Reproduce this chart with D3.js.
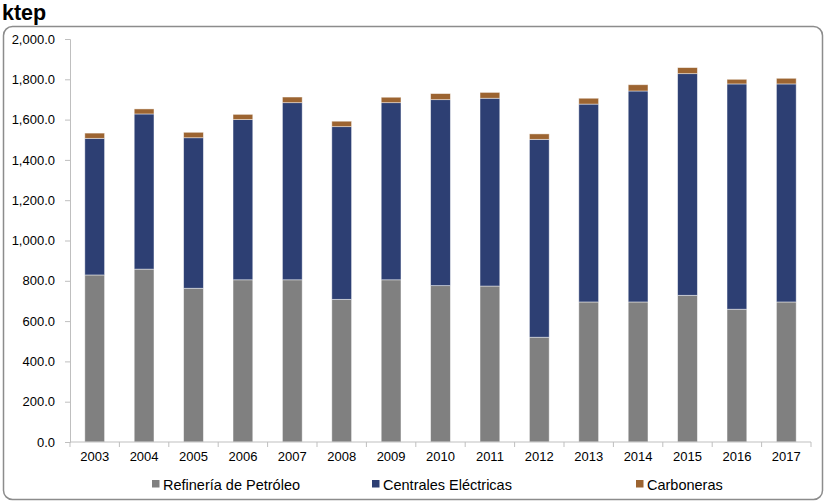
<!DOCTYPE html>
<html>
<head>
<meta charset="utf-8">
<script src="https://cdn.jsdelivr.net/npm/d3@7/dist/d3.min.js"></script>
<style>
  html, body { margin: 0; padding: 0; background: #fff; }
  svg { display: block; font-family: "Liberation Sans", Arial, sans-serif; }
</style>
</head>
<body>
<svg id="chart" width="825" height="502"></svg>
<script>
// Consumo por sector, ktep
const years = ["2003","2004","2005","2006","2007","2008","2009","2010","2011","2012","2013","2014","2015","2016","2017"];
const refineria = [829, 858, 763, 805, 805, 708, 805, 776, 774, 520, 695, 695, 728, 659, 695];
const centrales = [678, 770, 747, 795, 879, 857, 879, 923, 932, 982, 982, 1047, 1100, 1118, 1082];
const carboneras = [26, 25, 27, 26, 28, 27, 27, 30, 29, 27, 29, 31, 30, 23, 28];
const seriesNames = ["Refinería de Petróleo", "Centrales Eléctricas", "Carboneras"];
const seriesKeys = ["refineria", "centrales", "carboneras"];
const seriesColors = ["#808080", "#2D3F73", "#9C6431"];
const yTicks = [0, 200, 400, 600, 800, 1000, 1200, 1400, 1600, 1800, 2000];

const rows = years.map((y, i) => ({
  year: y, refineria: refineria[i], centrales: centrales[i], carboneras: carboneras[i]
}));

const svg = d3.select("#chart");

// outer frame
svg.append("rect")
  .attr("x", 3.5).attr("y", 26.5).attr("width", 819).attr("height", 473)
  .attr("rx", 9).attr("ry", 9)
  .attr("fill", "none").attr("stroke", "#8c8c8c").attr("stroke-width", 1.5);

// unit title
svg.append("text")
  .attr("x", 2).attr("y", 20)
  .attr("font-size", 21.5).attr("font-weight", "bold").attr("fill", "#000")
  .text("ktep");

const plotLeft = 70, plotRight = 811, plotTop = 39, plotBottom = 442;

const x = d3.scaleBand().domain(years).range([plotLeft, plotRight]).paddingInner(0.6).paddingOuter(0.3);
const xBand = d3.scaleBand().domain(years).range([plotLeft, plotRight]);
const y = d3.scaleLinear().domain([0, 2000]).range([plotBottom, plotTop]);

const stacked = d3.stack().keys(seriesKeys)(rows);

const g = svg.append("g");
g.selectAll("g.layer")
  .data(stacked)
  .join("g")
  .attr("class", "layer")
  .attr("fill", (d, i) => seriesColors[i])
  .selectAll("rect")
  .data(d => d)
  .join("rect")
  .attr("x", d => x(d.data.year))
  .attr("width", x.bandwidth())
  .attr("y", d => y(d[1]))
  .attr("height", d => y(d[0]) - y(d[1]))
  .attr("stroke", "rgba(255,255,255,0.55)")
  .attr("stroke-width", 0.8);

// y axis
const yAxis = d3.axisLeft(y)
  .tickValues(yTicks)
  .tickFormat(d3.format(",.1f"))
  .tickSizeOuter(0)
  .tickSize(5)
  .tickPadding(10);
const ya = svg.append("g").attr("transform", `translate(${plotLeft},0)`).call(yAxis);
ya.select(".domain").attr("stroke", "#bfbfbf");
ya.selectAll(".tick line").attr("stroke", "#bfbfbf");
ya.selectAll(".tick text").attr("font-size", 13).attr("fill", "#000")
  .attr("font-family", "\"Liberation Sans\", Arial, sans-serif");

// x axis: ticks fall between categories
const xa = svg.append("g").attr("transform", `translate(0,${plotBottom})`);
xa.append("line").attr("x1", plotLeft).attr("x2", plotRight).attr("y1", 0).attr("y2", 0)
  .attr("stroke", "#bfbfbf");
const boundaries = years.map(yr => xBand(yr)).concat([plotRight]);
xa.selectAll("line.sep").data(boundaries).join("line")
  .attr("class", "sep")
  .attr("x1", d => d).attr("x2", d => d).attr("y1", 0).attr("y2", 5)
  .attr("stroke", "#bfbfbf");
xa.selectAll("text.yl").data(years).join("text")
  .attr("class", "yl")
  .attr("x", d => xBand(d) + xBand.bandwidth() / 2)
  .attr("y", 19)
  .attr("text-anchor", "middle")
  .attr("font-size", 13).attr("fill", "#000")
  .text(d => d);

// legend
const legendX = [152, 372, 636];
const lg = svg.append("g");
seriesNames.forEach((name, i) => {
  lg.append("rect").attr("x", legendX[i]).attr("y", 480).attr("width", 7.5).attr("height", 7.5)
    .attr("fill", seriesColors[i]);
  lg.append("text").attr("x", legendX[i] + 11).attr("y", 489.5)
    .attr("font-size", 14.5).attr("fill", "#000").text(name);
});
</script>
</body>
</html>
